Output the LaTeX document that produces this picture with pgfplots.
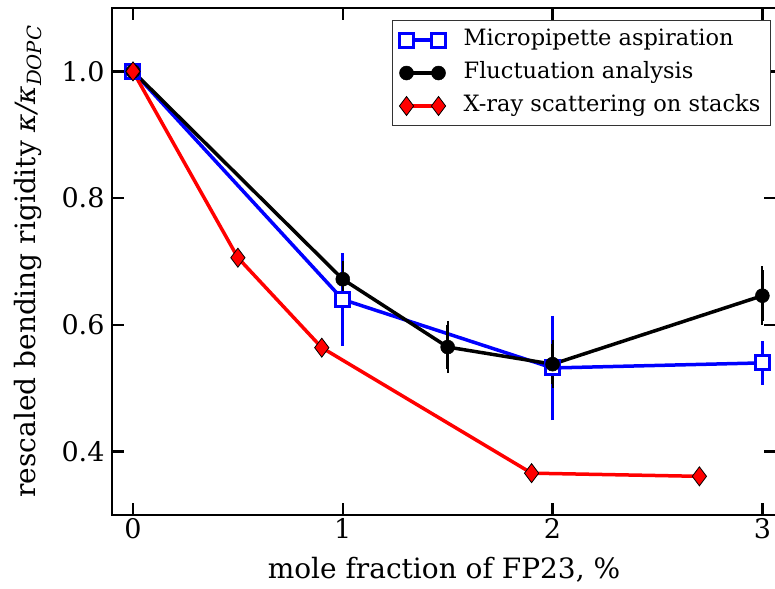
\documentclass[border=0pt]{standalone}
\usepackage{fontspec}
\setmainfont{DejaVu Serif}
\usepackage{pgfplots}
\pgfplotsset{compat=1.18}

\begin{document}
\begin{tikzpicture}
\begin{axis}[
  name=ax,
  scale only axis,
  width=664pt, height=507pt,
  xmin=-0.1, xmax=3.065,
  ymin=0.3, ymax=1.1,
  xtick={0,1,2,3},
  ytick={0.4,0.6,0.8,1.0},
  yticklabel style={/pgf/number format/fixed,
    /pgf/number format/fixed zerofill,
    /pgf/number format/precision=1, xshift=-4pt},
  /pgf/number format/assume math mode=true,
  tick align=inside,
  major tick length=12pt,
  tick style={line width=2.5pt, black},
  axis line style={line width=2.5pt},
  ticklabel style={font=\fontsize{27}{32}\selectfont},
  label style={font=\fontsize{28}{33}\selectfont},
  xlabel={mole fraction of FP23, \%},
  ylabel={rescaled bending rigidity \textit{κ/κ}\textsubscript{\textit{DOPC}}},
  xlabel style={at={(axis description cs:0.5,-0.126)}, anchor=base},
  ylabel style={at={(axis description cs:-0.115,0.5)}, anchor=base},
  legend cell align=left,
  legend style={at={(0.9925,0.976)}, anchor=north east,
    font=\fontsize{22.5}{27}\selectfont,
    draw=black!80, line width=1.2pt, fill=white,
    inner xsep=7pt, inner ysep=5pt,
    row sep=4.5pt, column sep=15pt,
    nodes={inner sep=3pt, text height=17pt, text depth=5.5pt}},
  legend image code/.code={%
    \draw[#1] plot coordinates {(0pt,0pt) (32pt,0pt)};},
]
% micropipette aspiration
\addplot[blue, line width=3.5pt, mark=square*, mark size=7pt,
  mark options={fill=white, line width=3pt},
  error bars/.cd, y dir=both, y explicit,
  error bar style={line width=3pt},
  error mark options={line width=3pt, mark size=4pt}]
  coordinates {
  (0,1.000) +- (0,0)
  (1,0.640) +- (0,0.067)
  (2,0.532) +- (0,0.076)
  (3,0.540) +- (0,0.028)
};
\addlegendentry{Micropipette aspiration}
% fluctuation analysis
\addplot[black, line width=3.5pt, mark=*, mark size=7pt,
  mark options={fill=black, line width=0.5pt},
  error bars/.cd, y dir=both, y explicit,
  error bar style={line width=2.5pt},
  error mark options={line width=2pt, mark size=4pt}]
  coordinates {
  (0,1.000) +- (0,0)
  (1,0.672) +- (0,0.022)
  (1.5,0.565) +- (0,0.035)
  (2,0.538) +- (0,0.032)
  (3,0.646) +- (0,0.040)
};
\addlegendentry{Fluctuation analysis}
% x-ray scattering
\addplot[red, line width=3.5pt, mark=diamond*, mark size=9.5pt,
  mark options={fill=red, draw=black, line width=0.8pt}]
  coordinates {
  (0,1.000)
  (0.5,0.706)
  (0.9,0.564)
  (1.9,0.366)
  (2.7,0.361)
};
\addlegendentry{X-ray scattering on stacks}
\end{axis}
\pgfresetboundingbox
\path[use as bounding box] ([shift={(-112pt,-74pt)}]ax.south west)
  rectangle ([shift={(-1pt,8pt)}]ax.north east);
\end{tikzpicture}
\end{document}
